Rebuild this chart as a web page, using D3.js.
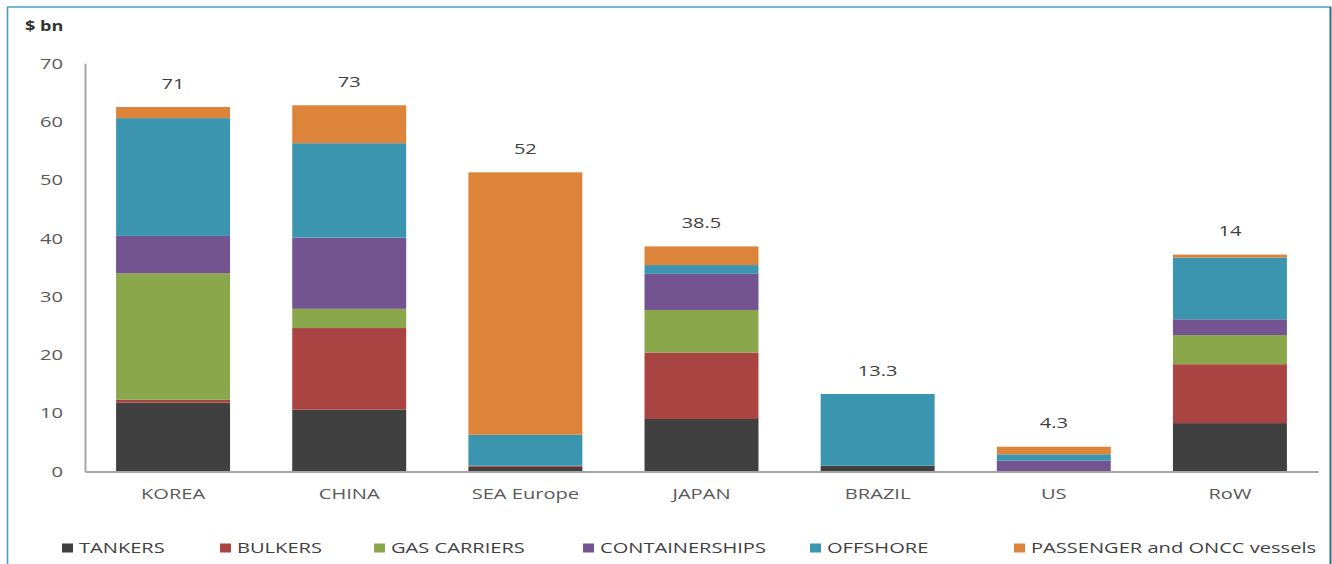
<!DOCTYPE html>
<html>
<head>
<meta charset="utf-8">
<script src="https://cdn.jsdelivr.net/npm/d3@7"></script>
<style>
  html, body { margin: 0; padding: 0; background: #fff; }
  svg { display: block; }
  text { font-family: "Open Sans", "Liberation Sans", sans-serif; }
</style>
</head>
<body>
<svg id="chart" width="1332" height="564"></svg>
<script>
// Shipbuilding orderbook by builder region, $ bn
const categories = ["KOREA", "CHINA", "SEA Europe", "JAPAN", "BRAZIL", "US", "RoW"];
const seriesNames = ["TANKERS", "BULKERS", "GAS CARRIERS", "CONTAINERSHIPS", "OFFSHORE", "PASSENGER and ONCC vessels"];

const tankers        = [11.8, 10.6,  0.8,  9.0,  1.0, 0.0,  8.3];
const bulkers        = [ 0.5, 14.0,  0.2, 11.4,  0.0, 0.0, 10.1];
const gasCarriers    = [21.7,  3.3,  0.0,  7.3,  0.0, 0.0,  5.0];
const containerships = [ 6.4, 12.2,  0.0,  6.2,  0.0, 1.85, 2.7];
const offshore       = [20.2, 16.2,  5.3,  1.5, 12.3, 1.1, 10.6];
const passenger      = [ 1.9,  6.5, 45.0,  3.2,  0.0, 1.3,  0.5];

// Totals printed above each column
const totalLabels = ["71", "73", "52", "38.5", "13.3", "4.3", "14"];

const yTicks = [0, 10, 20, 30, 40, 50, 60, 70];

const colors = ["#404040", "#aa4443", "#8aa84b", "#735490", "#3b95ae", "#dc853a"];

// ---- layout ----
const svg = d3.select("#chart");
const W = 1332, H = 564;
const x0 = 85, x1 = 1318, yBase = 471.5, yTop = 63.3;
const SX = 1.34;              // horizontal text stretch
const FS = 15;                // base font size
const axisColor = "#a6a6a6";

// frame
svg.append("line").attr("x1", 7.5).attr("x2", 7.5).attr("y1", 7).attr("y2", H)
  .attr("stroke", "#4b9cc3").attr("stroke-width", 1.6);
svg.append("line").attr("x1", 7).attr("x2", 1331).attr("y1", 7).attr("y2", 7)
  .attr("stroke", "#4b9cc3").attr("stroke-width", 1.6);
svg.append("line").attr("x1", 1330.5).attr("x2", 1330.5).attr("y1", 7).attr("y2", H)
  .attr("stroke", "#2c6c88").attr("stroke-width", 2);

const x = d3.scaleBand().domain(categories).range([x0, x1])
  .paddingInner(0.353).paddingOuter(0.1765);
const y = d3.scaleLinear().domain([0, 70]).range([yBase, yTop]);

// stacked data
const seriesValues = [tankers, bulkers, gasCarriers, containerships, offshore, passenger];
const rows = categories.map((c, i) => {
  const r = { cat: c };
  seriesNames.forEach((s, k) => { r[s] = seriesValues[k][i]; });
  return r;
});
const stacked = d3.stack().keys(seriesNames)(rows);

// y-axis unit
svg.append("text").attr("transform", `translate(25,31) scale(${SX},1)`)
  .attr("font-size", 13.5).attr("font-weight", 700).attr("fill", "#333")
  .text("$ bn");

// bars
svg.append("g").selectAll("g").data(stacked).join("g")
  .attr("fill", (d, i) => colors[i])
  .selectAll("rect").data(d => d).join("rect")
  .attr("x", d => x(d.data.cat))
  .attr("width", x.bandwidth())
  .attr("y", d => y(d[1]))
  .attr("height", d => y(d[0]) - y(d[1]));

// y axis
const yAxis = svg.append("g").attr("transform", `translate(${x0},0)`)
  .call(d3.axisLeft(y).tickValues(yTicks).tickSize(0).tickSizeOuter(0).tickPadding(22));
yAxis.select(".domain").attr("stroke", axisColor).attr("stroke-width", 2);
yAxis.selectAll("text")
  .attr("x", -22 / SX)
  .attr("transform", `scale(${SX},1)`)
  .attr("font-size", FS).attr("fill", "#595959")
  .style("font-family", "'Open Sans', sans-serif");

// x axis
const xAxis = svg.append("g").attr("transform", `translate(0,${yBase})`)
  .call(d3.axisBottom(x).tickSize(0).tickSizeOuter(0).tickPadding(17));
xAxis.select(".domain").attr("stroke", axisColor).attr("stroke-width", 2);
xAxis.selectAll("text")
  .attr("transform", `scale(${SX},1)`)
  .attr("font-size", FS).attr("fill", "#595959")
  .style("font-family", "'Open Sans', sans-serif");

// totals above columns
const totals = categories.map((c, i) => d3.sum(seriesValues, s => s[i]));
svg.append("g").selectAll("text").data(categories).join("text")
  .attr("transform", (c, i) => `translate(${x(c) + x.bandwidth() / 2},${y(totals[i]) - 23.5}) scale(${SX},1)`)
  .attr("text-anchor", "middle").attr("dy", "0.35em")
  .attr("font-size", FS).attr("fill", "#404040")
  .text((c, i) => totalLabels[i]);

// legend
const legendX = [62, 220, 374, 583, 810, 1014];
const legendY = 548;
const lg = svg.append("g").selectAll("g").data(seriesNames).join("g")
  .attr("transform", (d, i) => `translate(${legendX[i]},${legendY})`);
lg.append("rect").attr("x", 0).attr("y", -4.5).attr("width", 11).attr("height", 9)
  .attr("fill", (d, i) => colors[i]);
lg.append("text").attr("transform", `translate(17,0) scale(${SX},1)`)
  .attr("dy", "0.35em").attr("font-size", FS).attr("fill", "#404040")
  .text(d => d);
</script>
</body>
</html>
